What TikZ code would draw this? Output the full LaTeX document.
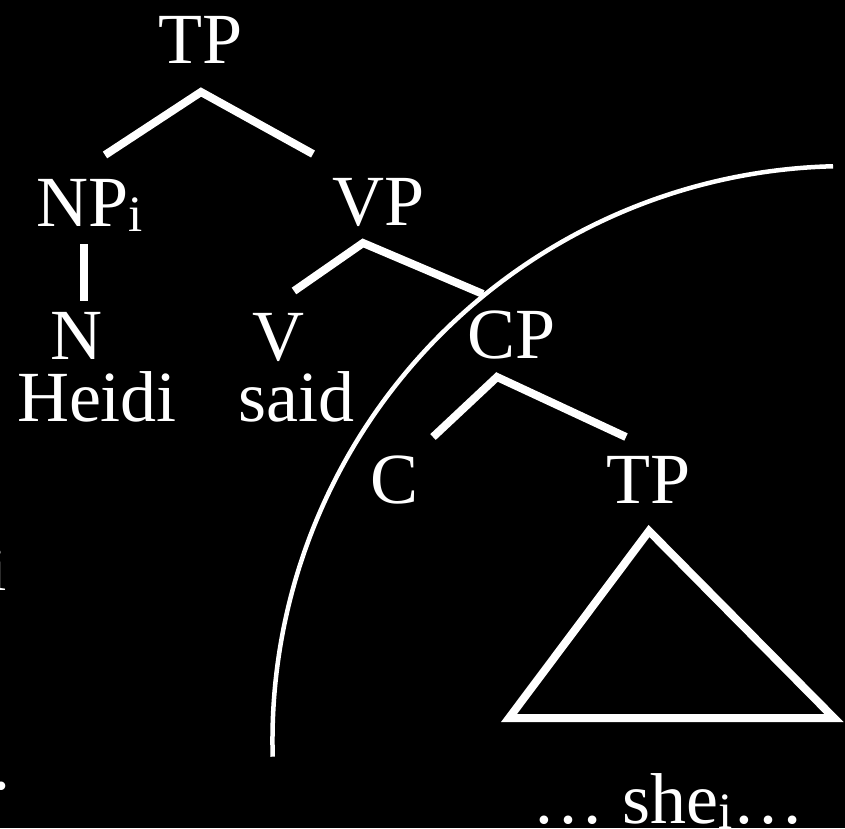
\documentclass[tikz,border=0pt]{standalone}
\usepackage{fontspec}
\setmainfont{Liberation Serif}
\newcommand{\sbi}{\raisebox{-5pt}{\fontsize{51}{51}\selectfont i}}
\begin{document}
\begin{tikzpicture}[x=1pt,y=-1pt,
  lbl/.style={text=white, font=\fontsize{72}{80}\selectfont, inner sep=0pt, anchor=base},
  branch/.style={draw=white, line width=8pt, line join=miter, line cap=butt},
  arcline/.style={draw=white, line width=4.5pt, line cap=butt}]
\fill[black] (0,0) rectangle (845,828);
\useasboundingbox (0,0) rectangle (845,828);
% labels
\node[lbl] (tp1) at (200.5,63) {TP};
\node[lbl, anchor=base west] (np) at (36,226) {NP\sbi};
\node[lbl] (vp) at (379,225) {VP};
\node[lbl] (n) at (76,359) {N};
\node[lbl] (heidi) at (97,421) {Heidi};
\node[lbl] (v) at (278,360) {V};
\node[lbl] (said) at (296.5,421) {said};
\node[lbl] (cp) at (512,358) {CP};
\node[lbl] (c) at (395,503) {C};
\node[lbl] (tp2) at (648.5,503) {TP};
\node[lbl, anchor=base west] (she) at (532,823) {\char"2026{} she\sbi\char"2026};
\node[lbl, anchor=base east, font=\fontsize{62}{62}\selectfont] (frag1) at (7,590) {i};
\node[lbl, anchor=base west] (frag2) at (-7.5,789) {.};
% branch points
\coordinate (tp1a) at (201,92);
\coordinate (tp1l) at (105,155);
\coordinate (tp1r) at (313,154);
\coordinate (npb) at (84,244);
\coordinate (nt) at (84,301);
\coordinate (vpa) at (363,243);
\coordinate (vpl) at (294,291);
\coordinate (vpr) at (483,294);
\coordinate (cpa) at (497,377);
\coordinate (cpl) at (433,437);
\coordinate (cpr) at (626,437);
\coordinate (tra) at (649,531);
\coordinate (trl) at (509,718);
\coordinate (trr) at (834,718);
\draw[branch] (tp1l) -- (tp1a) -- (tp1r);
\draw[branch] (npb) -- (nt);
\draw[branch] (vpl) -- (vpa) -- (vpr);
\draw[branch] (cpl) -- (cpa) -- (cpr);
\draw[branch] (tra) -- (trl) -- (trr) -- cycle;
% boundary arc
\coordinate (arcstart) at (272.7,756.7);
\draw[arcline] (arcstart) arc[start angle=178.4, end angle=268.6, radius=574.6];
\end{tikzpicture}
\end{document}
